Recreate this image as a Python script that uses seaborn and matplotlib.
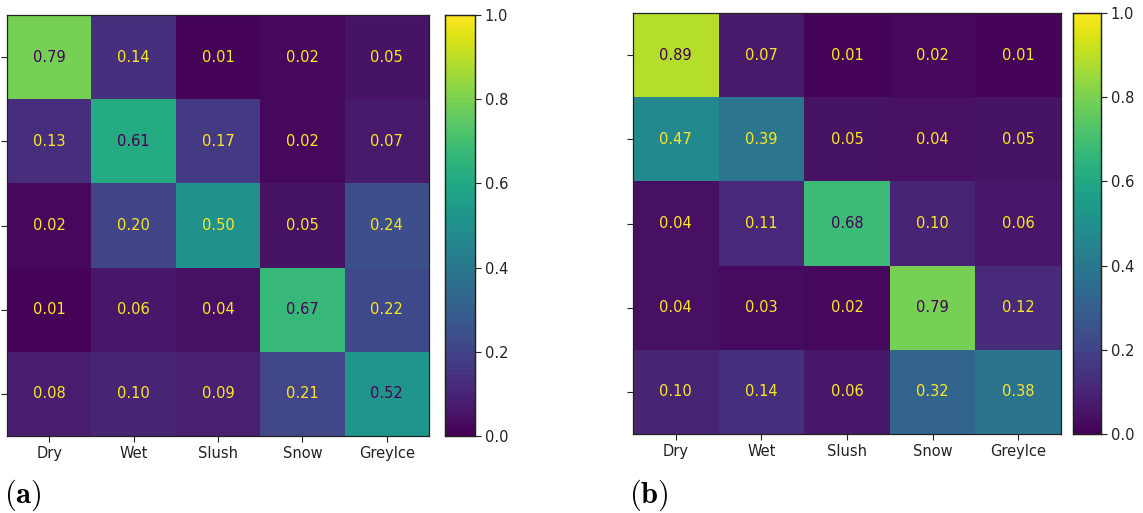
import numpy as np
import matplotlib
matplotlib.use("Agg")
import matplotlib.pyplot as plt
import seaborn as sns

classes = ["Dry", "Wet", "Slush", "Snow", "GreyIce"]

cm_a = [
    [0.79, 0.14, 0.01, 0.02, 0.05],
    [0.13, 0.61, 0.17, 0.02, 0.07],
    [0.02, 0.20, 0.50, 0.05, 0.24],
    [0.01, 0.06, 0.04, 0.67, 0.22],
    [0.08, 0.10, 0.09, 0.21, 0.52],
]

cm_b = [
    [0.89, 0.07, 0.01, 0.02, 0.01],
    [0.47, 0.39, 0.05, 0.04, 0.05],
    [0.04, 0.11, 0.68, 0.10, 0.06],
    [0.04, 0.03, 0.02, 0.79, 0.12],
    [0.10, 0.14, 0.06, 0.32, 0.38],
]

panel_labels = ["(a)", "(b)"]

sns.set_theme(style="white")
plt.rcParams["font.family"] = ["DejaVu Sans"]
plt.rcParams["mathtext.fontset"] = "cm"

cmap = plt.get_cmap("viridis")
light_txt = cmap(1.0)
dark_txt = cmap(0.0)

fig = plt.figure(figsize=(11.43, 5.13), dpi=100)
W, H = 1143.0, 513.0

# pixel boxes: heatmap and colorbar for each panel
boxes = [
    dict(hm=(7, 15, 429, 436), cb=(445, 15, 475, 436), lab=(4, 503)),
    dict(hm=(633, 13, 1061, 434), cb=(1073, 13, 1101, 434), lab=(629, 503)),
]


def to_fig(x0, y0, x1, y1):
    return [x0 / W, 1 - y1 / H, (x1 - x0) / W, (y1 - y0) / H]


for data, box, label in zip([cm_a, cm_b], boxes, panel_labels):
    arr = np.array(data)
    ax = fig.add_axes(to_fig(*box["hm"]))
    cax = fig.add_axes(to_fig(*box["cb"]))
    sns.heatmap(arr, ax=ax, cbar_ax=cax, cmap="viridis", vmin=0, vmax=1,
                annot=True, fmt=".2f", annot_kws={"fontsize": 10.5},
                xticklabels=classes, yticklabels=False, square=False)
    flat = arr.ravel()
    for t, v in zip(ax.texts, flat):
        t.set_color(dark_txt if v > 0.505 else light_txt)
    for s in ax.spines.values():
        s.set_visible(True)
        s.set_color("#222222")
        s.set_linewidth(0.9)
    ax.set_yticks(np.arange(5) + 0.5)
    ax.set_yticklabels([])
    ax.tick_params(axis="both", which="both", length=4, width=0.8, color="#222222",
                   bottom=True, left=True, labelsize=10.5, pad=3)
    ax.tick_params(axis="x", labelrotation=0, labelcolor="#222222")
    cax.tick_params(axis="y", length=4, width=0.8, color="#222222", labelsize=10.5,
                    labelcolor="#222222", right=True, pad=3)
    cax.set_yticks([0.0, 0.2, 0.4, 0.6, 0.8, 1.0])
    cax.set_yticklabels(["0.0", "0.2", "0.4", "0.6", "0.8", "1.0"])
    for s in cax.spines.values():
        s.set_visible(True)
        s.set_color("#222222")
        s.set_linewidth(0.9)
    lx, ly = box["lab"]
    fig.text(lx / W, 1 - ly / H, r"$\mathbf{" + label + "}$", fontsize=22,
             ha="left", va="baseline", color="black")

fig.savefig("out.png", dpi=100)
